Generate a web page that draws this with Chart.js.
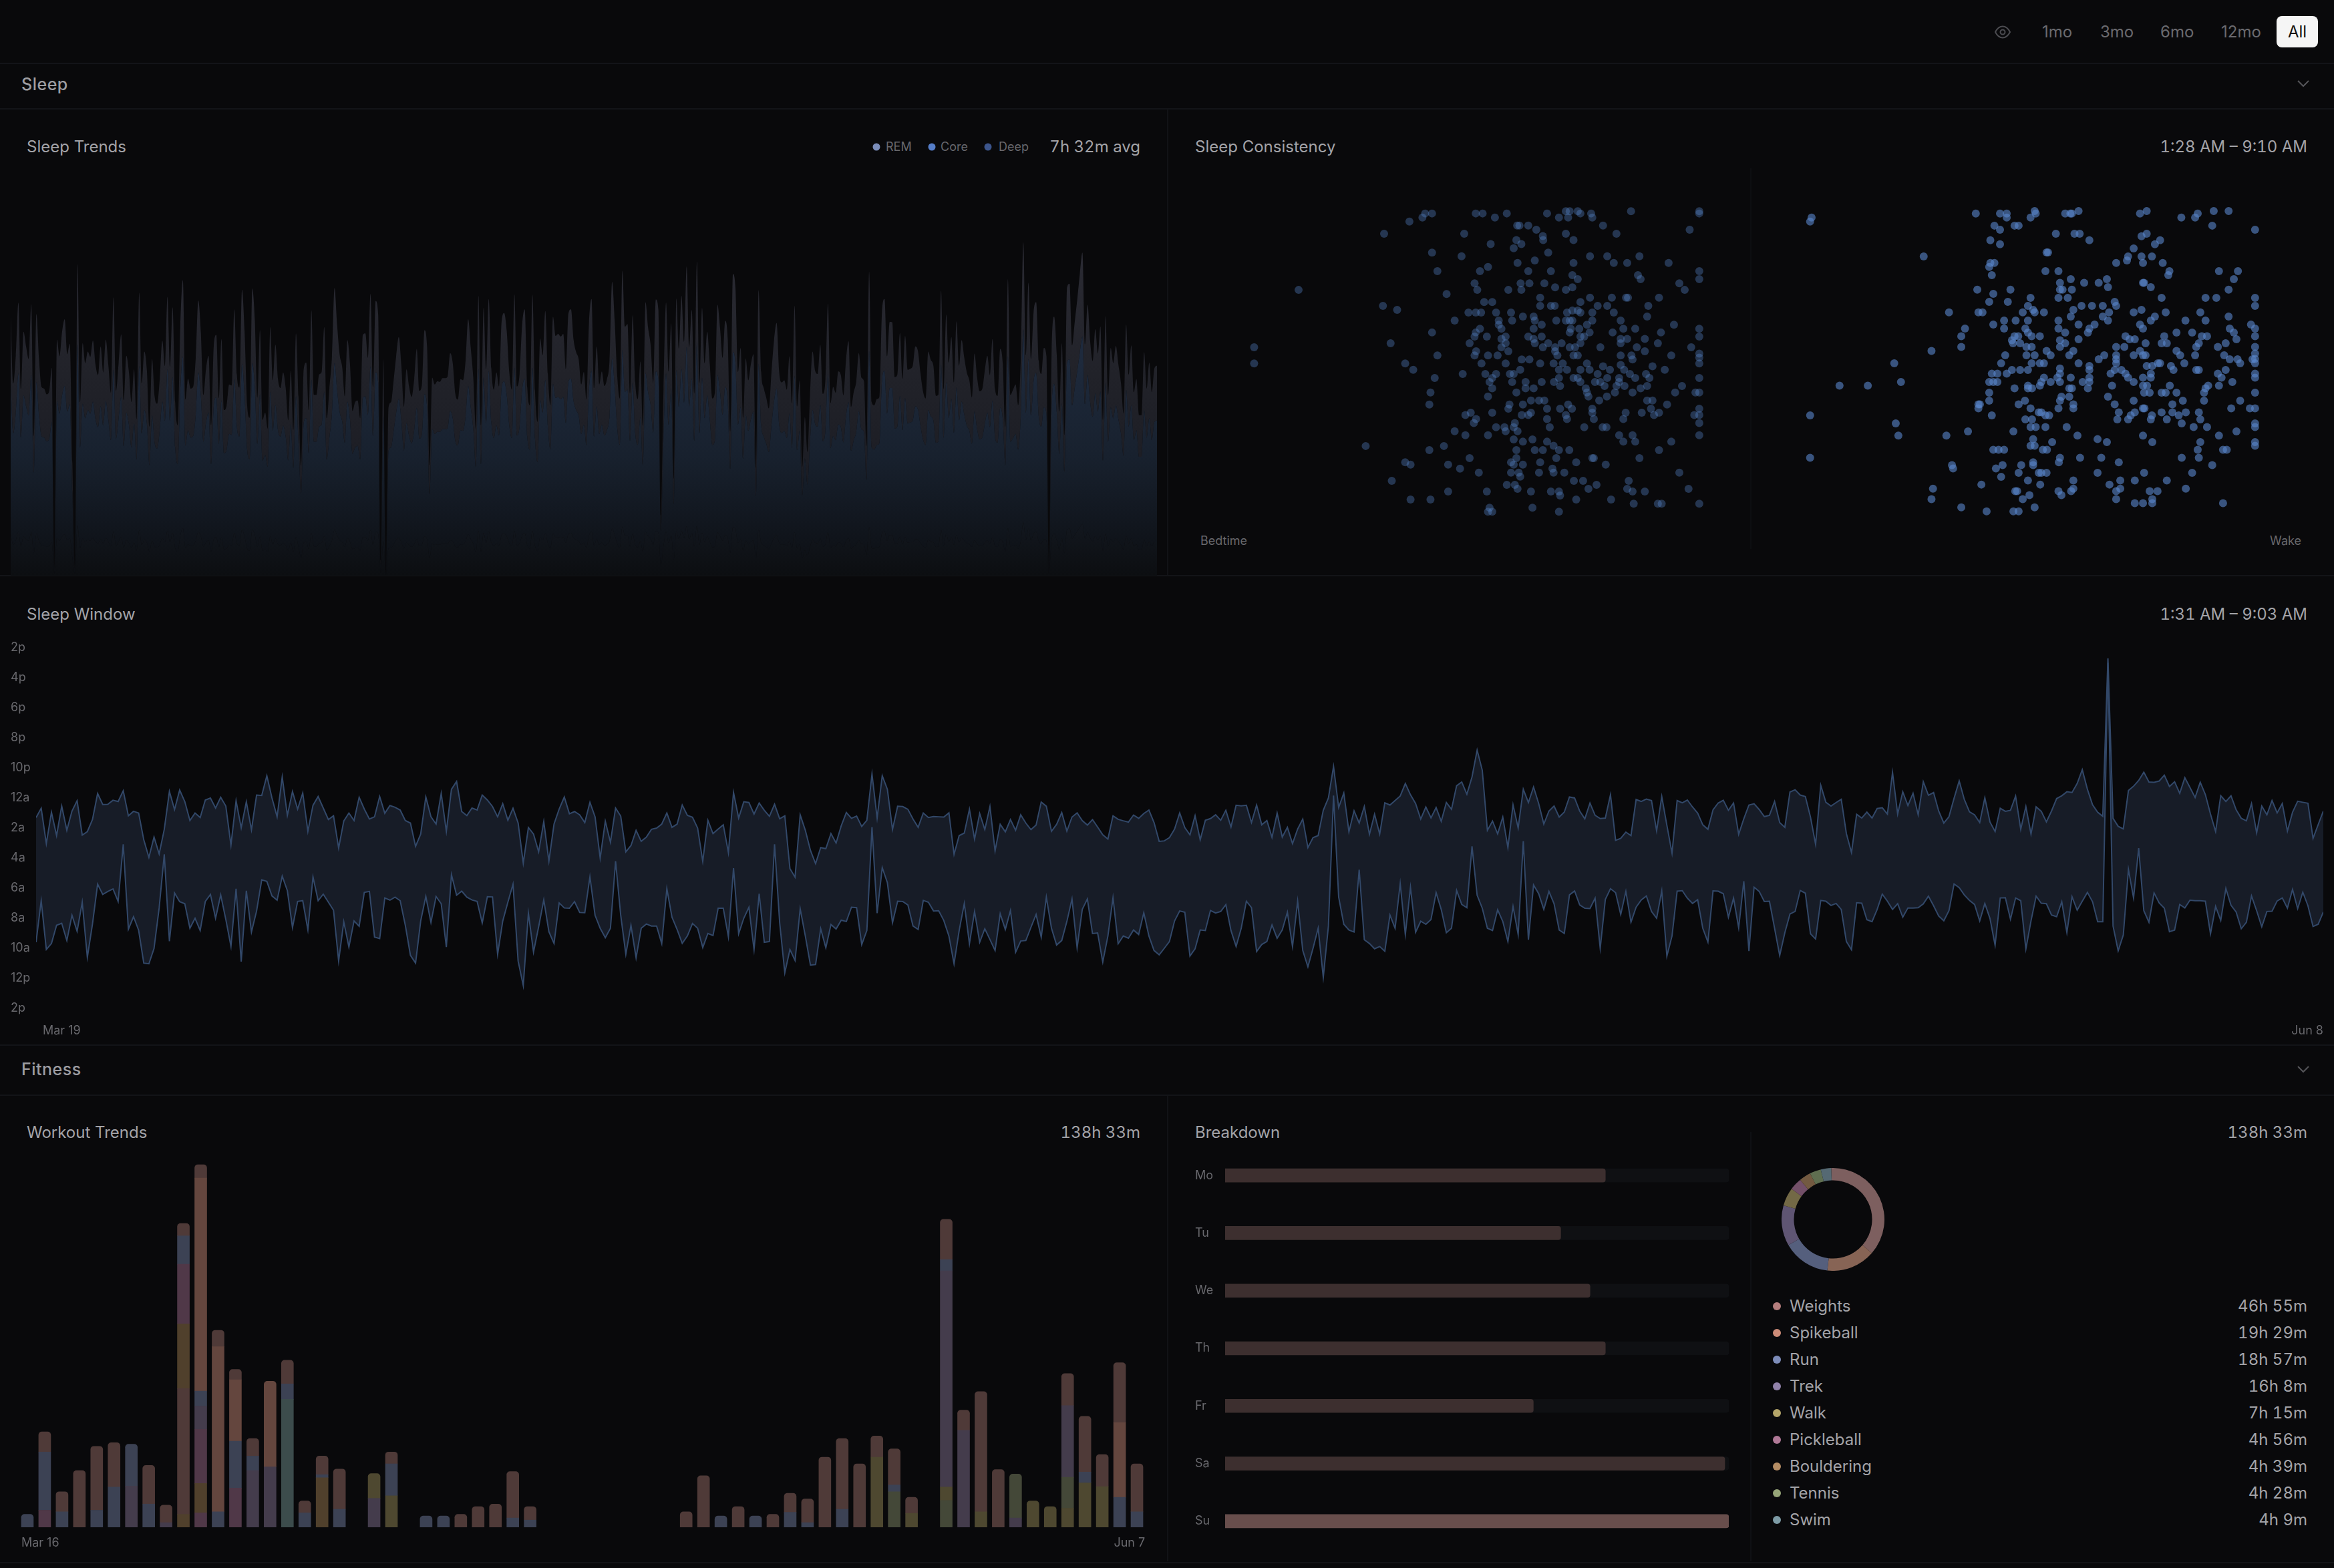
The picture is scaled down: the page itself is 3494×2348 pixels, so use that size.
<!DOCTYPE html>
<html>
<head>
<meta charset="utf-8">
<title>Sleep and Fitness</title>
<script src="https://cdn.jsdelivr.net/npm/chart.js@4/dist/chart.umd.min.js"></script>
<style>
html, body { margin: 0; padding: 0; background: #09090b; }
#page { position: relative; width: 3494px; height: 2348px; overflow: hidden; background: #09090b; font-family: Inter, sans-serif; }
canvas { position: absolute; }
.t { position: absolute; white-space: nowrap; transform: translateY(-50%); color: #a3a3a8; font-size: 24px; line-height: 1; }
.n { font-variant-numeric: tabular-nums; }
.sm { font-size: 18px; color: #68686d; }
.sec { font-size: 25px; font-weight: 500; color: #9d9da2; letter-spacing: 0.5px; }
.nav { font-size: 24px; color: #6a6a6f; }
.hl { position: absolute; left: 0; width: 3494px; height: 2px; background: #131418; }
.vl { position: absolute; width: 2px; background: #111216; }
.dot { position: absolute; border-radius: 50%; transform: translate(-50%, -50%); }
svg { position: absolute; fill: none; }
</style>
</head>
<body>
<div id="page">
  <div class="t nav" style="left:3057px;top:48px">1mo</div>
  <div class="t nav" style="left:3144px;top:48px">3mo</div>
  <div class="t nav" style="left:3234px;top:48px">6mo</div>
  <div class="t nav" style="left:3325px;top:48px">12mo</div>
  <div style="position:absolute;left:3408px;top:24px;width:62px;height:47px;border-radius:8px;background:#f5f5f5"></div>
  <div class="t nav" style="left:3425px;top:48px;color:#111">All</div>
  <svg style="left:2984px;top:34px" width="28" height="28" viewBox="0 0 28 28" stroke="#4b4b50" stroke-width="2"><path d="M3 14c3-6 7-8.500 11-8.500s8 2.500 11 8.500c-3 6-7 8.500-11 8.500s-8-2.500-11-8.500z"/><circle cx="14" cy="14" r="3.500"/></svg>

  <div class="hl" style="top:94px"></div>
  <div class="t sec" style="left:32px;top:126px">Sleep</div>
  <svg style="left:3438px;top:118px" width="20" height="14" viewBox="0 0 20 14" stroke="#55555a" stroke-width="2"><path d="M2 3l8 8 8-8"/></svg>
  <div class="hl" style="top:162px"></div>
  <div class="vl" style="left:1747px;top:164px;height:698px"></div>
  <div class="vl" style="left:2620px;top:252px;height:570px;background:#0d0e11"></div>

  <div class="t" style="left:40px;top:220px">Sleep Trends</div>
  <div class="dot" style="left:1312px;top:220px;width:11px;height:11px;background:#7a8cb9"></div>
  <div class="t sm" style="left:1326px;top:220px">REM</div>
  <div class="dot" style="left:1395px;top:220px;width:11px;height:11px;background:#557dc8"></div>
  <div class="t sm" style="left:1408px;top:220px">Core</div>
  <div class="dot" style="left:1479px;top:220px;width:11px;height:11px;background:#3c558c"></div>
  <div class="t sm" style="left:1495px;top:220px">Deep</div>
  <div class="t n" style="right:1787px;top:220px">7h 32m avg</div>
  <div class="t" style="left:1789px;top:220px">Sleep Consistency</div>
  <div class="t n" style="right:40px;top:220px">1:28 AM – 9:10 AM</div>
  <div class="t sm" style="left:1797px;top:810px">Bedtime</div>
  <div class="t sm" style="right:49px;top:810px">Wake</div>

  <div class="hl" style="top:861px"></div>
  <div class="t" style="left:40px;top:920px">Sleep Window</div>
  <div class="t n" style="right:40px;top:920px">1:31 AM – 9:03 AM</div>

  <div class="hl" style="top:1564px"></div>
  <div class="t sec" style="left:32px;top:1601px">Fitness</div>
  <svg style="left:3438px;top:1594px" width="20" height="14" viewBox="0 0 20 14" stroke="#55555a" stroke-width="2"><path d="M2 3l8 8 8-8"/></svg>
  <div class="hl" style="top:1639px"></div>
  <div class="vl" style="left:1747px;top:1641px;height:697px"></div>
  <div class="vl" style="left:2620px;top:1695px;height:643px;background:#0f1014"></div>
  <div class="t" style="left:40px;top:1696px">Workout Trends</div>
  <div class="t n" style="right:1787px;top:1696px">138h 33m</div>
  <div class="t" style="left:1789px;top:1696px">Breakdown</div>
  <div class="t n" style="right:40px;top:1696px">138h 33m</div>
  <div class="hl" style="top:2339px"></div>

  <canvas id="trendsCanvas" width="1716" height="600" style="left:16px;top:262px"></canvas>
  <canvas id="bedCanvas" width="900" height="600" style="left:1750px;top:260px"></canvas>
  <canvas id="wakeCanvas" width="874" height="600" style="left:2620px;top:260px"></canvas>
  <canvas id="windowCanvas" width="3494" height="624" style="left:0;top:940px"></canvas>
  <canvas id="workoutCanvas" width="1747" height="627" style="left:0;top:1700px"></canvas>
  <canvas id="weekdayCanvas" width="828" height="604" style="left:1760px;top:1717px"></canvas>
  <canvas id="donutCanvas" width="154" height="154" style="left:2667px;top:1749px"></canvas>
</div>

<script>
// Sleep Trends, minutes per night
var sleepDeep = [80,59,68,84,57,75,70,67,83,43,80,67,58,57,56,57,64,3,72,67,75,79,68,71,35,3,96,53,71,65,69,67,72,65,62,70,62,72,65,56,85,57,65,74,54,68,63,53,63,48,87,59,69,63,46,67,55,53,60,72,64,86,64,82,53,46,77,91,54,60,57,58,67,84,75,56,64,68,46,70,74,55,73,51,52,59,58,82,62,58,88,75,52,48,88,78,55,75,48,50,45,76,60,71,60,58,62,58,48,63,45,74,55,34,63,65,51,81,56,56,62,63,76,48,
57,67,88,77,68,64,55,72,65,51,53,54,48,74,74,67,87,58,84,80,5,66,1,52,53,60,68,73,64,52,63,58,55,60,70,57,59,75,70,34,61,59,60,60,61,61,61,68,65,56,54,60,60,66,79,70,61,45,86,46,82,63,85,64,57,62,58,78,81,75,62,57,86,58,62,77,82,58,52,86,57,47,73,68,81,62,52,80,74,74,73,74,63,80,82,72,69,66,59,63,54,77,85,58,70,59,63,58,60,66,90,78,61,54,94,76,77,
56,80,59,54,66,46,84,76,71,59,85,82,19,57,84,63,77,30,85,70,86,72,95,70,82,56,96,59,82,65,75,65,54,56,83,76,67,78,72,44,93,88,63,70,48,67,60,65,68,33,88,63,58,55,51,62,72,78,63,59,60,57,67,53,83,52,60,33,49,38,55,69,63,62,71,56,60,84,53,58,56,63,62,55,66,72,52,56,60,68,61,60,40,93,53,52,54,55,81,85,67,78,78,61,62,75,60,74,63,64,64,70,69,62,56,54,69,
66,64,55,56,88,57,80,65,73,59,78,64,72,67,62,60,55,68,61,57,57,63,68,62,73,57,55,70,65,46,91,56,57,59,52,66,102,68,90,67,81,84,66,62,70,67,3,69,80,68,50,71,43,88,90,71,78,85,93,99,71,83,72,66,76,68,76,48,80,56,70,65,71,65,59,50,77,62,71,56,60,49,49,69,57,65,56,64,64];
var sleepCore = [289,214,245,304,208,271,255,241,302,155,291,242,210,208,202,205,231,12,263,244,271,285,247,258,125,12,347,193,259,237,249,244,262,235,223,255,226,263,234,204,310,206,237,269,195,245,227,193,230,175,315,214,249,228,166,241,200,191,219,262,233,310,233,299,193,168,278,329,196,219,208,210,242,306,270,201,230,245,168,255,268,198,263,184,189,213,212,296,224,209,318,271,190,176,320,284,198,273,173,182,164,277,218,257,219,209,226,209,173,228,162,270,199,123,230,237,184,295,201,201,224,227,277,175,
208,244,320,280,246,232,200,262,236,183,193,195,175,268,270,242,314,210,306,290,17,241,3,187,193,218,245,266,234,188,230,211,199,219,252,206,212,273,255,123,220,213,216,216,220,220,222,248,237,202,196,219,218,240,285,253,220,163,311,168,298,230,308,231,207,226,211,282,292,272,226,207,313,211,224,280,296,209,190,313,206,171,264,245,295,224,190,288,267,269,266,269,230,292,296,263,249,241,213,227,196,281,308,209,255,213,227,211,219,240,327,284,222,197,339,277,280,
203,290,215,197,238,167,305,276,256,215,307,296,67,208,304,227,281,108,309,253,311,260,344,255,296,203,350,215,298,237,271,235,197,204,302,276,242,284,263,161,336,320,227,253,176,242,218,235,247,120,318,227,209,198,186,226,262,281,227,215,218,207,244,192,300,189,218,121,176,137,201,249,228,224,257,202,219,303,192,210,204,227,223,201,240,261,188,204,216,248,220,216,144,338,193,190,197,199,293,308,244,282,282,221,224,270,219,267,229,230,234,255,250,225,205,197,249,
240,234,200,202,317,208,291,237,266,215,283,234,262,243,226,218,198,247,221,205,208,228,245,223,263,208,200,252,236,165,330,201,207,213,190,241,371,245,326,241,293,305,239,224,253,244,10,249,288,246,183,259,157,321,325,256,282,308,336,360,258,302,261,239,274,247,277,173,289,201,253,237,256,235,214,180,280,224,256,204,219,179,179,249,208,237,204,231,234];
var sleepRem = [129,96,110,136,93,122,115,108,136,70,131,108,94,94,90,92,104,5,118,110,122,128,110,116,56,5,155,87,116,106,112,109,117,105,100,115,102,118,105,91,139,92,106,120,88,109,101,87,103,78,141,96,112,102,74,108,89,86,98,117,105,139,104,134,87,75,125,147,88,99,94,94,109,138,121,90,103,109,75,115,120,88,118,83,85,95,95,133,100,94,143,122,85,79,143,127,89,123,78,81,73,124,97,115,98,93,102,93,77,102,73,121,89,55,103,107,83,133,90,90,100,101,124,79,
94,110,144,125,110,104,89,118,106,82,87,87,79,120,121,109,140,94,137,130,8,108,1,84,87,97,109,119,105,84,103,94,89,98,113,92,95,123,115,55,99,95,97,96,98,98,99,111,106,91,88,98,97,107,128,114,98,73,140,75,134,103,138,103,93,102,94,127,131,122,102,93,141,94,101,125,133,94,85,140,92,77,118,110,132,101,85,129,119,121,120,121,103,131,133,118,111,108,95,101,88,126,138,93,115,95,102,95,98,107,147,127,100,89,152,125,126,
91,130,97,88,107,75,136,124,115,96,138,133,30,93,136,102,126,48,138,113,140,117,154,114,132,91,157,96,134,106,122,106,89,92,135,123,109,127,118,72,150,143,101,114,79,108,97,106,110,54,142,101,93,88,84,102,117,126,101,97,97,93,110,86,135,84,97,55,79,62,90,112,102,101,115,91,98,135,86,94,91,102,100,90,107,117,84,92,97,111,99,97,65,152,87,85,88,89,132,138,110,127,126,99,100,121,99,119,103,103,105,115,112,101,92,89,112,
108,105,90,90,142,93,130,107,119,97,127,105,118,109,102,97,89,111,99,92,93,102,109,100,118,93,90,113,106,74,148,90,93,95,85,108,167,110,146,108,132,136,107,101,114,110,5,112,129,110,82,116,70,144,145,115,127,138,151,161,115,135,117,107,123,111,125,78,129,90,114,106,114,105,96,81,125,100,115,92,98,80,80,111,94,107,92,103,105];

// Sleep Consistency, [position on the hidden time axis, jitter]
var bedtimePoints = [[668,322],[686,322],[661,336],[627,350],[800,322],[818,322],[850,336],[881,322],[986,322],[1017,336],[1035,314],[1045,314],[1041,336],[1066,314],[1073,322],[1101,322],[1104,336],[1205,314],[1383,314],[1383,322],[908,364],[914,364],[937,364],[958,378],[1132,364],[1358,378],[561,392],[770,392],[975,400],[976,414],[1035,392],[1055,414],[1167,392],[906,414],[919,428],[899,442],[839,428],[686,457],[763,470],[989,457],[1098,470],[1143,470],[1227,470],[954,484],[909,493],[1055,493],[1160,493],[1195,493],[1303,493],[832,507],[811,521],[700,521],[937,521],[996,521],[1383,521],[1052,535],[1066,549],[1223,535],[1230,549],[1383,549],[1331,563],[1345,586],[797,563],[804,586],[885,586],[917,563],[919,586],[940,563],[979,563],[1007,577],[1035,586],[1052,577],[724,600],[338,586],[968,613],[1098,613],[1155,613],[1192,613],[1197,613],[1278,613],[822,628],[843,628],[1073,628],[968,641],[996,641],[1006,641],[1118,641],[1143,641],[1250,641],[558,641],[595,655],[781,664],[800,664],[814,664],[853,664],[892,664],[1052,657],[1066,657],[1073,664],[1038,664],[1160,664],[1104,664],[923,678],[951,678],[1247,678],[745,692],[860,692],[895,692],[954,692],[1010,692],[1035,692],[1052,692],[1045,692],[1104,692],[1178,692],[860,706],[972,706],[1090,706],[1317,706],[811,720],[867,720],[951,720],[1048,720],[1070,720],[1185,720],[1216,720],[1383,720],[686,733],[800,733],[1045,733],[1097,733],[1157,733],[1283,733],[797,747],[829,747],[878,747],[937,747],[972,747],[1073,747],[1083,747],[1178,755],[1241,755],[1383,747],[867,755],[951,755],[578,770],[784,770],[878,770],[954,770],[989,770],[1024,770],[1073,770],[1178,770],[1275,770],[222,784],[867,784],[975,784],[1007,784],[1045,784],[1059,784],[1125,784],[1195,755],[1220,784],[1362,784],[801,798],[885,798],[1007,798],[1241,798],[1383,806],[700,812],[797,812],[832,812],[857,812],[1013,812],[1055,812],[1066,812],[1178,812],[1206,812],[1310,812],[1209,826],[1383,820],[920,826],[940,826],[222,840],[616,840],[815,840],[878,840],[968,840],[1003,840],[1027,840],[1090,840],[1132,850],[1178,845],[1383,840],[1261,850],[637,862],[916,862],[1017,862],[1038,862],[1073,862],[1097,862],[1150,862],[1187,862],[1293,862],[766,876],[825,876],[853,876],[889,876],[899,876],[1118,876],[1202,876],[1244,876],[693,890],[843,890],[1017,890],[1055,890],[1066,890],[1143,890],[1216,890],[1253,890],[1383,890],[1174,890],[836,904],[895,904],[930,904],[972,904],[1004,904],[1073,904],[1111,904],[1125,904],[1174,904],[843,926],[930,926],[951,926],[1020,918],[1087,926],[1136,918],[1167,918],[1188,918],[1230,926],[1247,918],[1338,918],[682,940],[906,940],[1094,954],[1142,954],[1163,940],[1209,940],[1320,940],[1373,940],[1383,940],[832,954],[1090,940],[679,982],[944,968],[965,968],[979,968],[1122,968],[1247,968],[1261,968],[888,982],[923,982],[1299,982],[885,996],[986,996],[1020,996],[1041,982],[1051,996],[1104,996],[1257,996],[1383,996],[787,1010],[843,1010],[944,1010],[1233,1010],[1104,1010],[1278,1010],[773,1018],[920,1018],[937,1018],[1035,1018],[1265,1018],[1370,1018],[1383,1018],[1191,1010],[801,1032],[986,1032],[1038,1032],[1108,1032],[1185,1032],[795,1046],[902,1046],[1383,1046],[853,1060],[875,1060],[899,1060],[993,1060],[1083,1060],[1131,1060],[1141,1060],[745,1074],[878,1074],[909,1074],[773,1088],[832,1088],[1174,1088],[1209,1088],[1383,1088],[899,1102],[948,1102],[923,1110],[986,1110],[1003,1124],[1185,1110],[1216,1110],[1310,1110],[513,1125],[717,1125],[679,1139],[906,1139],[954,1139],[975,1139],[1017,1139],[1044,1139],[1278,1139],[784,1167],[906,1167],[1010,1167],[1104,1167],[1108,1167],[1227,1167],[616,1181],[892,1181],[968,1181],[1062,1181],[630,1189],[728,1189],[899,1189],[923,1189],[1139,1189],[1000,1203],[759,1203],[808,1217],[892,1217],[912,1217],[965,1217],[1003,1217],[1031,1217],[1331,1217],[916,1231],[581,1245],[1056,1245],[1080,1245],[1199,1245],[881,1259],[902,1259],[1115,1259],[909,1273],[1094,1273],[1195,1273],[1355,1273],[728,1282],[829,1282],[944,1282],[996,1282],[1017,1282],[1209,1282],[1241,1282],[1020,1296],[630,1310],[682,1310],[1062,1310],[1153,1310],[1212,1324],[1275,1324],[1285,1324],[1383,1324],[836,1338],[948,1338],[832,1352],[843,1352],[1017,1352]];
var wakePoints = [[165,594],[161,605],[606,583],[671,583],[689,583],[689,594],[764,576],[767,583],[753,594],[846,583],[864,583],[860,583],[882,576],[1047,583],[1065,576],[1158,594],[1195,594],[1202,583],[1245,576],[1285,576],[1241,616],[1356,627],[656,616],[671,627],[710,616],[721,616],[645,656],[671,667],[821,638],[871,638],[885,638],[911,656],[1065,638],[1051,645],[1101,656],[1087,667],[1030,678],[466,700],[796,689],[800,689],[1015,700],[1051,700],[1079,700],[1012,711],[983,718],[1055,718],[1108,718],[656,718],[645,718],[642,729],[649,751],[793,740],[828,740],[1126,740],[1123,751],[1259,740],[1310,740],[1299,762],[861,762],[958,762],[832,772],[897,772],[936,772],[1055,772],[1058,772],[961,784],[1076,784],[610,791],[699,791],[832,791],[839,791],[864,791],[1285,791],[653,802],[828,813],[853,813],[753,813],[1105,813],[1223,813],[1252,813],[1356,813],[642,824],[692,824],[979,824],[746,835],[890,835],[918,835],[947,835],[983,835],[1356,835],[868,846],[760,846],[1051,846],[534,853],[613,853],[624,853],[732,853],[764,853],[789,853],[964,853],[1030,853],[1116,853],[1209,853],[861,864],[947,864],[1087,864],[1285,864],[682,875],[713,875],[746,875],[828,875],[961,875],[1076,875],[1169,875],[1223,875],[653,886],[882,886],[925,886],[1047,886],[1345,886],[577,897],[682,897],[739,897],[828,897],[911,897],[1055,897],[1288,897],[1356,897],[746,908],[846,908],[907,908],[1187,908],[1145,908],[1299,908],[567,918],[710,918],[720,918],[756,918],[778,918],[1008,918],[1112,918],[1213,918],[1227,918],[1356,918],[703,929],[832,929],[882,926],[1019,926],[1033,926],[1306,926],[706,937],[725,937],[846,937],[1105,937],[1119,937],[1062,937],[1205,937],[1277,937],[567,947],[742,947],[756,947],[832,947],[983,947],[1005,947],[1198,947],[1256,947],[1356,947],[487,958],[796,958],[868,958],[1047,958],[1145,958],[685,970],[742,970],[764,970],[807,970],[857,970],[951,970],[1030,970],[1055,970],[1155,970],[1195,970],[1273,970],[1356,965],[983,970],[936,981],[983,981],[1062,970],[1288,981],[1309,981],[1349,981],[1356,980],[387,992],[674,992],[756,992],[778,992],[789,992],[882,992],[983,992],[1095,992],[1101,992],[1130,999],[1166,992],[1316,992],[1356,992],[1065,999],[1080,999],[911,999],[832,1006],[703,1010],[725,1010],[746,1010],[911,1010],[979,1010],[997,1010],[1137,1010],[1198,1010],[1205,1010],[1277,1010],[649,1020],[664,1020],[689,1020],[832,1020],[968,1020],[1076,1020],[1256,1020],[1356,1020],[1008,1020],[911,1031],[789,1031],[825,1031],[861,1031],[1015,1031],[1055,1031],[1076,1031],[1266,1031],[1356,1031],[405,1043],[642,1043],[653,1043],[664,1043],[782,1043],[807,1043],[832,1043],[893,1043],[911,1043],[1030,1043],[1295,1043],[240,1053],[316,1053],[746,1053],[757,1060],[746,1060],[710,1060],[778,1053],[857,1060],[907,1060],[972,1053],[1055,1053],[1066,1053],[1127,1053],[1230,1053],[1259,1053],[864,1060],[1223,1060],[642,1072],[1058,1072],[1073,1072],[1105,1072],[1116,1072],[1145,1072],[1219,1072],[1356,1072],[857,1083],[836,1083],[961,1083],[642,1094],[738,1094],[832,1094],[1030,1094],[1162,1094],[1219,1094],[1316,1094],[868,1104],[979,1104],[721,1104],[613,1104],[617,1104],[1134,1104],[613,1115],[753,1115],[828,1115],[868,1115],[1055,1115],[1059,1115],[1292,1115],[1342,1115],[1356,1115],[775,1126],[782,1126],[990,1126],[1033,1126],[1105,1126],[1134,1126],[1170,1126],[1205,1126],[161,1134],[649,1134],[793,1134],[803,1134],[1022,1134],[1079,1134],[1151,1134],[739,1145],[757,1145],[986,1145],[1015,1145],[1076,1145],[1119,1145],[1209,1145],[391,1156],[1159,1156],[1356,1156],[753,1166],[767,1166],[793,1166],[850,1166],[1191,1166],[1227,1166],[1356,1166],[585,1178],[707,1178],[1306,1178],[527,1189],[398,1189],[879,1189],[1055,1189],[1259,1189],[760,1199],[933,1199],[811,1207],[958,1207],[1080,1207],[1209,1207],[1356,1207],[753,1217],[764,1217],[1356,1217],[653,1228],[667,1228],[682,1228],[786,1228],[797,1228],[1202,1228],[1270,1228],[1280,1228],[161,1250],[832,1250],[886,1250],[943,1250],[1159,1250],[1205,1250],[829,1262],[760,1262],[990,1262],[760,1270],[542,1270],[678,1270],[728,1270],[1241,1270],[545,1279],[660,1279],[721,1291],[775,1291],[782,1291],[796,1291],[933,1291],[1058,1291],[1187,1291],[674,1302],[746,1312],[868,1312],[994,1312],[1033,1312],[1119,1312],[621,1323],[779,1323],[965,1323],[491,1334],[868,1334],[994,1334],[1170,1334],[828,1341],[712,1341],[717,1341],[983,1341],[1073,1341],[1094,1341],[862,1341],[750,1352],[836,1352],[487,1363],[732,1363],[983,1363],[1080,1363],[1080,1374],[1033,1374],[1055,1374],[1270,1374],[567,1385],[764,1385],[635,1396],[707,1396],[721,1396]];

// Sleep Window, minutes after 2pm
var windowTicks = ['2p','4p','6p','8p','10p','12a','2a','4a','6a','8a','10a','12p','2p'];
var windowDates = ['Mar 19','Jun 8'];
var bedMinutes = [678,641,782,657,750,632,729,652,611,748,734,686,582,626,625,609,614,571,671,653,660,767,837,756,823,725,574,646,568,614,690,660,678,608,600,640,597,632,788,611,719,615,727,588,590,511,600,675,516,669,574,644,580,733,629,594,640,686,671,800,692,660,690,597,644,684,675,594,661,630,637,648,690,700,793,744,596,675,704,582,733,565,534,654,670,640,648,588,608,634,675,623,689,641,700,860,718,744,815,694,852,704,644,596,663,654,667,698,617,675,840,693,777,640,672,815,790,729,773,756,725,720,704,660,
717,704,628,669,677,720,853,689,742,724,707,818,578,680,615,618,664,620,649,673,625,683,671,882,916,667,729,809,862,798,802,742,780,711,658,681,672,714,689,504,680,511,565,726,633,634,645,684,717,660,678,674,675,676,659,825,750,740,645,764,662,726,634,811,705,735,686,729,667,700,726,708,616,633,733,705,658,732,676,659,690,708,686,716,747,764,671,685,691,696,668,681,662,648,698,773,771,758,724,660,718,747,671,767,689,682,667,689,649,716,629,631,629,698,628,707,690,
757,660,756,717,782,724,684,798,758,750,649,600,474,638,580,735,651,700,634,745,665,744,619,628,610,592,542,587,622,684,636,679,638,693,618,645,551,536,585,516,409,489,729,692,743,676,798,627,720,565,618,556,622,704,652,632,676,656,596,600,652,683,620,669,682,680,587,769,761,736,750,606,614,604,610,731,594,709,820,610,619,608,636,660,707,725,647,620,609,649,620,745,683,628,623,646,674,669,614,698,717,576,567,588,594,676,785,549,617,632,618,605,742,818,665,680,656,
680,642,639,664,498,664,575,630,581,667,535,589,578,652,700,675,601,532,606,655,667,698,599,696,734,641,653,649,592,725,634,744,635,653,695,652,602,591,575,578,542,487,565,627,657,673,42,681,713,723,570,553,530,497,536,537,532,509,554,535,581,519,558,598,537,586,664,734,591,614,591,647,681,691,622,739,632,667,610,659,622,732,657,613,617,621,761,706,652];
var wakeMinutes = [1176,1010,1205,1181,1108,1100,1169,1068,1132,1016,1236,1103,944,985,973,963,1013,785,1124,1074,1128,1259,1262,1201,1039,825,1172,979,1014,1022,1120,1080,1129,1013,985,1080,987,1085,1192,962,1253,970,1135,1051,927,933,991,1008,912,970,1117,1013,1010,1126,915,1010,984,1016,1048,1251,1094,1195,1091,1112,977,973,1155,1161,999,1008,996,1010,1108,1228,1259,1091,993,1097,993,1022,1195,906,988,972,996,1007,1013,1099,994,995,1224,1091,1016,944,1251,1349,1060,1215,1114,1007,1134,1181,1019,1039,1040,1014,1057,1058,915,1068,1120,1158,1120,852,1068,1224,1108,1238,1120,1103,1111,1111,1181,962,
1076,1125,1180,1151,1101,1120,1197,1141,1149,1040,1040,1154,880,1142,1080,1036,1205,982,1176,1173,785,1098,1298,1205,1249,1042,1151,1267,1265,1122,1198,1105,1123,1088,1093,1036,1038,1185,1129,716,1060,878,938,1098,1012,1013,1027,1111,1125,1009,1016,1051,1050,1089,1151,1262,1129,1021,1182,1053,1176,1122,1165,1209,1062,1125,1049,1216,1171,1169,1116,1065,1156,996,1120,1187,1169,1093,1003,1198,1045,1003,1141,1139,1255,1151,998,1182,1151,1160,1127,1145,1058,1151,1209,1226,1200,1173,1091,1051,1056,1231,1202,1127,1129,1049,1059,1053,1026,1129,1193,1120,1012,1038,1213,1185,1173,
1107,1160,1127,1056,1193,1012,1209,1274,1200,1120,1316,1111,590,996,1104,1127,1135,886,1166,1181,1202,1193,1212,1067,1120,942,1145,957,1136,1092,1104,1085,978,1045,1138,1120,969,1025,1038,793,988,1040,1120,1129,1046,1093,1173,1033,1145,772,1166,947,982,1045,973,1022,1127,1141,987,971,1027,1040,1041,1000,1200,1005,962,978,1065,973,1096,1036,1007,991,1053,1080,971,1231,1151,972,970,1000,1021,1006,1120,1175,971,972,982,1076,1000,1118,932,1211,956,973,1013,1012,1120,1229,1138,1063,1053,969,980,1142,1163,1009,1012,1029,1021,1045,1173,1206,1018,1020,1086,
1094,1045,984,1012,1045,1022,1076,1039,1039,1038,1023,992,1030,1071,1090,1050,943,958,987,1009,1025,1091,1021,1081,1188,999,998,1084,999,1010,1203,1091,992,1020,1022,1067,1074,1014,1137,994,1048,1012,977,1014,1094,1094,60,1111,1210,1147,885,999,800,1050,1096,979,1019,1040,1134,1127,1025,1039,1008,1010,1010,1012,1142,1033,1089,961,1028,1055,1122,1096,991,1050,1114,1053,1052,1011,999,1040,965,1042,976,1030,1113,1104,1055];

// Workout Trends, one list per week from the bottom of the bar up
var workoutDates = ['Mar 16','Jun 7'];
var workoutMinutes = [[25],[33,113,39],[30,39],[110],[33,124],[78,86],[80,81],[45,75],[9,34],[25,244,125,116,55,24],[28,57,105,45,29,413,26],[30,320,32],[76,91,119,20],[110,28,34],[117,166],[248,30,46],[28,23],[96,6,36],[35,78],[],[56,48],[61,62,23],[],[22],[22],[25],[40],[45],[18,90],[14,26],[],[],[],[],[],[],[],[],[30],[100],[22],[40],[22],[25],[29,37],[9,46],[136],[35,137],[123],[136,41],[69,13,70],[27,31],[],[52,26,419,22,78],[188,39],[30,233],[112],[18,85],[51],[40],[37,60,139,62],[86,21,108],[79,62],[58,145,116],[30,93]];
var workoutKinds = ['r','prw','rw','w','rw','rw','tr','rw','tw','bwbprw','pbptrsw','rsw','prsw','trw','ts','mrw','rw','brw','rw','','tk','krw','','r','r','w','w','w','rw','rw','','','','','','','','','w','w','r','w','r','w','rw','rw','w','rw','w','kw','nrw','kw','','nktrw','tw','kw','w','tn','k','k','kntw','krw','kw','rsw','rw'];
var kindColors = { w:'#4f3a38', s:'#64463e', r:'#3c4254', t:'#443c4c', k:'#4e4830', p:'#503848', b:'#50402c', n:'#444838', m:'#3c4c4c' };

// Breakdown
var weekdays = ['Mo','Tu','We','Th','Fr','Sa','Su'];
var weekdayMinutes = [1140,1006,1094,1140,924,1498,1510];
var weekdayTrack = [1510,1510,1510,1510,1510,1510,1510];
var activities = ['Weights','Spikeball','Run','Trek','Walk','Pickleball','Bouldering','Tennis','Swim'];
var activityMinutes = [2815,1169,1137,968,435,296,279,268,249];
var activityLabels = ['46h 55m','19h 29m','18h 57m','16h 8m','7h 15m','4h 56m','4h 39m','4h 28m','4h 9m'];
var activitySlices = ['#7d5f5f','#876455','#555f7d','#5f5573','#736946','#735069','#735a41','#5f6e50','#556973'];
var activityDots = ['#b47d7d','#cd8c78','#7d8cb9','#9182aa','#b4a569','#af7896','#b48c64','#96a578','#7d9ba5'];

Chart.defaults.font.family = 'Inter, sans-serif';
Chart.defaults.font.size = 18;
Chart.defaults.color = '#68686d';
Chart.defaults.animation = false;
Chart.defaults.responsive = false;
Chart.defaults.layout.autoPadding = false;
Chart.defaults.plugins.legend.display = false;
Chart.defaults.plugins.tooltip.enabled = false;

function stops(ctx, height, list) {
    var g = ctx.createLinearGradient(0, 0, 0, height);
    list.forEach(function (s) { g.addColorStop(s[0], s[1]); });
    return g;
}

// axis tick labels stay inside the plot, no extra side margin
function noMargin(s) {
    s.paddingLeft = 0;
    s.paddingRight = 0;
    s.paddingTop = 0;
    s.paddingBottom = 0;
}

// Sleep Trends
var trendsCtx = document.getElementById('trendsCanvas').getContext('2d');
new Chart(trendsCtx, {
    type: 'line',
    data: {
        labels: sleepDeep.map(function (v, i) { return i; }),
        datasets: [
            { label: 'Deep', data: sleepDeep, fill: 'origin', backgroundColor: stops(trendsCtx, 600, [[0.8, '#161c26'], [1, '#0c0e11']]) },
            { label: 'Core', data: sleepCore, fill: '-1', backgroundColor: stops(trendsCtx, 600, [[0.45, '#1e2a3d'], [0.7, '#18212e'], [1, '#0c0e12']]) },
            { label: 'REM', data: sleepRem, fill: '-1', backgroundColor: stops(trendsCtx, 600, [[0.15, '#2c2c35'], [0.5, '#212229'], [0.75, '#1c1d24'], [1, '#0e0f12']]) }
        ]
    },
    options: {
        layout: { padding: 0 },
        elements: { point: { radius: 0 }, line: { borderWidth: 0, cubicInterpolationMode: 'monotone' } },
        scales: {
            x: { display: false },
            y: { display: false, stacked: true, min: 0, max: 769 }
        }
    }
});

// Sleep Consistency
function scatter(id, points, color, yMin) {
    new Chart(document.getElementById(id), {
        type: 'scatter',
        data: { datasets: [{ data: points.map(function (p) { return { x: p[0], y: p[1] }; }), backgroundColor: color, borderWidth: 0, pointRadius: 6 }] },
        options: {
            layout: { padding: 0 },
            scales: {
                x: { display: false, min: 0, max: 1568 },
                y: { display: false, reverse: true, min: yMin, max: 1568 }
            }
        }
    });
}
scatter('bedCanvas', bedtimePoints, 'rgba(90,135,205,0.36)', 184.5);
scatter('wakeCanvas', wakePoints, 'rgba(90,135,205,0.6)', 474);

// Sleep Window
function xy(list) {
    return list.map(function (v, i) { return { x: i, y: v }; });
}
new Chart(document.getElementById('windowCanvas'), {
    type: 'line',
    data: {
        datasets: [
            { label: 'Bedtime', data: xy(bedMinutes), borderColor: '#324869', borderWidth: 2, pointRadius: 0, fill: false },
            { label: 'Wake', data: xy(wakeMinutes), borderColor: '#324869', borderWidth: 2, pointRadius: 0, fill: '-1', backgroundColor: '#171c27' }
        ]
    },
    options: {
        layout: { padding: { top: 30, left: 16, right: 16, bottom: 0 } },
        scales: {
            x: {
                type: 'linear', min: 0, max: 446,
                grid: { display: false, drawTicks: false }, border: { display: false },
                ticks: { align: 'inner', padding: 23, maxRotation: 0, autoSkip: false, callback: function (v, i) { return windowDates[i]; } },
                afterBuildTicks: function (s) { s.ticks = [{ value: 1.3 }, { value: 446 }]; },
                afterFit: function (s) { s.height = 54; noMargin(s); }
            },
            y: {
                reverse: true, min: 0, max: 1440,
                grid: { display: false, drawTicks: false }, border: { display: false },
                ticks: { stepSize: 120, crossAlign: 'far', autoSkip: false, callback: function (v) { return windowTicks[v / 120]; } },
                afterFit: function (s) { s.width = 38; noMargin(s); }
            }
        }
    }
});

// Workout Trends
var workoutLayers = [0, 1, 2, 3, 4, 5, 6].map(function (layer) {
    return {
        data: workoutMinutes.map(function (week, i) { return { x: i, y: week[layer] || 0 }; }),
        backgroundColor: workoutKinds.map(function (kinds) { return kindColors[kinds[layer]] || 'transparent'; }),
        barThickness: 18,
        borderRadius: 5
    };
});
new Chart(document.getElementById('workoutCanvas'), {
    type: 'bar',
    data: { datasets: workoutLayers },
    options: {
        layout: { padding: { left: 28, right: 32, top: 0, bottom: 0 } },
        scales: {
            x: {
                type: 'linear', offset: false, stacked: true, min: -0.5, max: 64.5,
                grid: { display: false, drawTicks: false }, border: { display: false },
                ticks: { align: 'inner', padding: 13, maxRotation: 0, autoSkip: false, callback: function (v, i) { return workoutDates[i]; } },
                afterBuildTicks: function (s) { s.ticks = [{ value: -0.35 }, { value: 64.47 }]; },
                afterFit: function (s) { s.height = 40; noMargin(s); }
            },
            y: { display: false, stacked: true, min: 0, max: 760 }
        }
    }
});

// Breakdown by weekday, track behind the bars
new Chart(document.getElementById('weekdayCanvas'), {
    type: 'bar',
    data: {
        labels: weekdays,
        datasets: [
            { data: weekdayMinutes, backgroundColor: weekdayMinutes.map(function (v) { return v === 1510 ? '#684e4c' : '#3d2f2f'; }), barThickness: 20, borderRadius: 4, order: 1 },
            { data: weekdayTrack, backgroundColor: '#0f1013', barThickness: 20, borderRadius: 4, order: 2 }
        ]
    },
    options: {
        indexAxis: 'y',
        layout: { padding: { left: 29, right: 0, top: 0, bottom: 0 } },
        scales: {
            x: { display: false, min: 0, max: 1510, stacked: false },
            y: {
                stacked: true,
                grid: { display: false, drawTicks: false }, border: { display: false },
                ticks: { crossAlign: 'far', autoSkip: false },
                afterFit: function (s) { s.width = 45; noMargin(s); }
            }
        }
    }
});

// Breakdown by activity
new Chart(document.getElementById('donutCanvas'), {
    type: 'doughnut',
    data: { labels: activities, datasets: [{ data: activityMinutes, backgroundColor: activitySlices, borderWidth: 0 }] },
    options: { cutout: '76%', rotation: -2, layout: { padding: 0 } }
});

var page = document.getElementById('page');
activities.forEach(function (name, i) {
    var y = 1956 + i * 40;
    page.insertAdjacentHTML('beforeend',
        '<div class="dot" style="left:2660px;top:' + y + 'px;width:12px;height:12px;background:' + activityDots[i] + '"></div>' +
        '<div class="t" style="left:2679px;top:' + y + 'px">' + name + '</div>' +
        '<div class="t n" style="right:40px;top:' + y + 'px">' + activityLabels[i] + '</div>');
});
</script>
</body>
</html>
